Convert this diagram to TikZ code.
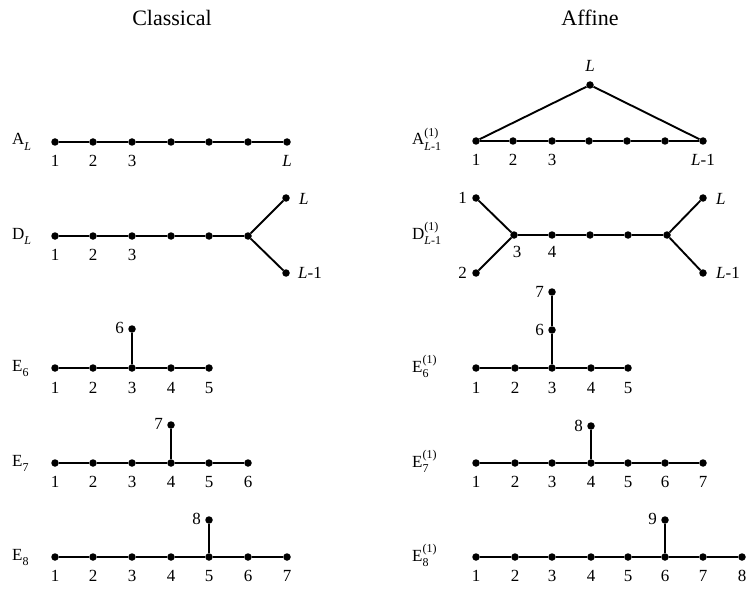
\documentclass[tikz,border=0pt]{standalone}
\usepackage{fontspec}
\setmainfont{Liberation Serif}
\newcommand{\rowlab}[3]{#1\rlap{\raisebox{1.1ex}{\fontsize{12}{12}\selectfont #2}}\raisebox{-0.7ex}{\fontsize{12}{12}\selectfont #3}}
\begin{document}
\begin{tikzpicture}[x=1pt,y=-1pt]
\tikzset{
  dot/.style={circle,fill=black,inner sep=0pt,minimum size=7.5pt},
  edge/.style={line width=1.9pt},
  lab/.style={font=\fontsize{17}{19}\selectfont,inner sep=0pt},
  numlab/.style={lab,anchor=north},
  leftlab/.style={lab,anchor=east},
  rightlab/.style={lab,anchor=west},
  rowname/.style={font=\fontsize{17}{19}\selectfont,inner sep=0pt,anchor=base west},
  head/.style={font=\fontsize{22}{24}\selectfont,inner sep=0pt}
}
\useasboundingbox (0,0) rectangle (750,591);

% headings
\node[head] (hc) at (172,18) {Classical};
\node[head] (ha) at (590,18) {Affine};

% ---------------- Classical ----------------
% A_L
\node[rowname] (rA) at (12,145) {\rowlab{A}{}{\textit{L}}};
\foreach \x [count=\i] in {55,93,132,171,209,248,287} \node[dot] (cA\i) at (\x,142) {};
\foreach \i [evaluate=\i as \j using int(\i+1)] in {1,...,6} \draw[edge] (cA\i) -- (cA\j);
\node[numlab] (lcA1) at (55,155) {1};
\node[numlab] (lcA2) at (93,155) {2};
\node[numlab] (lcA3) at (132,155) {3};
\node[numlab] (lcA7) at (287,155) {\textit{L}};

% D_L
\node[rowname] (rD) at (12,239) {\rowlab{D}{}{\textit{L}}};
\foreach \x [count=\i] in {55,93,132,171,209,248} \node[dot] (cD\i) at (\x,236) {};
\foreach \i [evaluate=\i as \j using int(\i+1)] in {1,...,5} \draw[edge] (cD\i) -- (cD\j);
\node[dot] (cD7) at (286,198) {};
\node[dot] (cD8) at (286,273) {};
\draw[edge] (cD6) -- (cD7);
\draw[edge] (cD6) -- (cD8);
\node[numlab] (lcD1) at (55,249) {1};
\node[numlab] (lcD2) at (93,249) {2};
\node[numlab] (lcD3) at (132,249) {3};
\node[rightlab] (lcD7) at (299,199) {\textit{L}};
\node[rightlab] (lcD8) at (298,273) {\textit{L}-1};

% E_6
\node[rowname] (rE6) at (12,371) {\rowlab{E}{}{6}};
\foreach \x [count=\i] in {55,93,132,171,209} \node[dot] (cE\i) at (\x,368) {};
\foreach \i [evaluate=\i as \j using int(\i+1)] in {1,...,4} \draw[edge] (cE\i) -- (cE\j);
\node[dot] (cE6) at (132,329) {};
\draw[edge] (cE3) -- (cE6);
\foreach \x [count=\i] in {55,93,132,171,209} \node[numlab] (lcE\i) at (\x,382) {\i};
\node[leftlab] (lcE6) at (124,328) {6};

% E_7
\node[rowname] (rF7) at (12,466) {\rowlab{E}{}{7}};
\foreach \x [count=\i] in {55,93,132,171,209,248} \node[dot] (cF\i) at (\x,463) {};
\foreach \i [evaluate=\i as \j using int(\i+1)] in {1,...,5} \draw[edge] (cF\i) -- (cF\j);
\node[dot] (cF7) at (171,425) {};
\draw[edge] (cF4) -- (cF7);
\foreach \x [count=\i] in {55,93,132,171,209,248} \node[numlab] (lcF\i) at (\x,476) {\i};
\node[leftlab] (lcF7) at (163,424) {7};

% E_8
\node[rowname] (rG8) at (12,560) {\rowlab{E}{}{8}};
\foreach \x [count=\i] in {55,93,132,171,209,248,287} \node[dot] (cG\i) at (\x,557) {};
\foreach \i [evaluate=\i as \j using int(\i+1)] in {1,...,6} \draw[edge] (cG\i) -- (cG\j);
\node[dot] (cG8) at (209,520) {};
\draw[edge] (cG5) -- (cG8);
\foreach \x [count=\i] in {55,93,132,171,209,248,287} \node[numlab] (lcG\i) at (\x,570) {\i};
\node[leftlab] (lcG8) at (201,519) {8};

% ---------------- Affine ----------------
% A_{L-1}^{(1)}
\node[rowname] (rAa) at (412,145) {\rowlab{A}{(1)}{\textit{L}-1}};
\foreach \x [count=\i] in {476,513,552,589,627,665,703} \node[dot] (aA\i) at (\x,141) {};
\foreach \i [evaluate=\i as \j using int(\i+1)] in {1,...,6} \draw[edge] (aA\i) -- (aA\j);
\node[dot] (aAt) at (590,85) {};
\draw[edge] (aA1) -- (aAt);
\draw[edge] (aAt) -- (aA7);
\node[lab,anchor=south] (laAt) at (590,72) {\textit{L}};
\node[numlab] (laA1) at (476,154) {1};
\node[numlab] (laA2) at (513,154) {2};
\node[numlab] (laA3) at (552,154) {3};
\node[numlab] (laA7) at (703,154) {\textit{L}-1};

% D_{L-1}^{(1)}
\node[rowname] (rDa) at (412,239) {\rowlab{D}{(1)}{\textit{L}-1}};
\foreach \x [count=\i] in {514,552,590,628,667} \node[dot] (aD\i) at (\x,235) {};
\foreach \i [evaluate=\i as \j using int(\i+1)] in {1,...,4} \draw[edge] (aD\i) -- (aD\j);
\node[dot] (aDa) at (476,198) {};
\node[dot] (aDb) at (476,273) {};
\node[dot] (aDc) at (703,198) {};
\node[dot] (aDd) at (703,273) {};
\draw[edge] (aD1) -- (aDa);
\draw[edge] (aD1) -- (aDb);
\draw[edge] (aD5) -- (aDc);
\draw[edge] (aD5) -- (aDd);
\node[leftlab] (laDa) at (467,198) {1};
\node[leftlab] (laDb) at (467,273) {2};
\node[numlab] (laD1) at (517,246) {3};
\node[numlab] (laD2) at (552,246) {4};
\node[rightlab] (laDc) at (716,199) {\textit{L}};
\node[rightlab] (laDd) at (716,273) {\textit{L}-1};

% E_6^{(1)}
\node[rowname] (rEa) at (412,372) {\rowlab{E}{(1)}{6}};
\foreach \x [count=\i] in {476,515,552,591,628} \node[dot] (aE\i) at (\x,368) {};
\foreach \i [evaluate=\i as \j using int(\i+1)] in {1,...,4} \draw[edge] (aE\i) -- (aE\j);
\node[dot] (aE6) at (552,330) {};
\node[dot] (aE7) at (552,292) {};
\draw[edge] (aE3) -- (aE6);
\draw[edge] (aE6) -- (aE7);
\foreach \x [count=\i] in {476,515,552,591,628} \node[numlab] (laE\i) at (\x,382) {\i};
\node[leftlab] (laE6) at (544,330) {6};
\node[leftlab] (laE7) at (544,292) {7};

% E_7^{(1)}
\node[rowname] (rFa) at (412,467) {\rowlab{E}{(1)}{7}};
\foreach \x [count=\i] in {476,515,552,591,628,665,703} \node[dot] (aF\i) at (\x,463) {};
\foreach \i [evaluate=\i as \j using int(\i+1)] in {1,...,6} \draw[edge] (aF\i) -- (aF\j);
\node[dot] (aF8) at (591,426) {};
\draw[edge] (aF4) -- (aF8);
\foreach \x [count=\i] in {476,515,552,591,628,665,703} \node[numlab] (laF\i) at (\x,476) {\i};
\node[leftlab] (laF8) at (583,426) {8};

% E_8^{(1)}
\node[rowname] (rGa) at (412,561) {\rowlab{E}{(1)}{8}};
\foreach \x [count=\i] in {476,515,552,591,628,665,703,742} \node[dot] (aG\i) at (\x,557) {};
\foreach \i [evaluate=\i as \j using int(\i+1)] in {1,...,7} \draw[edge] (aG\i) -- (aG\j);
\node[dot] (aG9) at (665,520) {};
\draw[edge] (aG6) -- (aG9);
\foreach \x [count=\i] in {476,515,552,591,628,665,703,742} \node[numlab] (laG\i) at (\x,570) {\i};
\node[leftlab] (laG9) at (657,519) {9};
\end{tikzpicture}
\end{document}
